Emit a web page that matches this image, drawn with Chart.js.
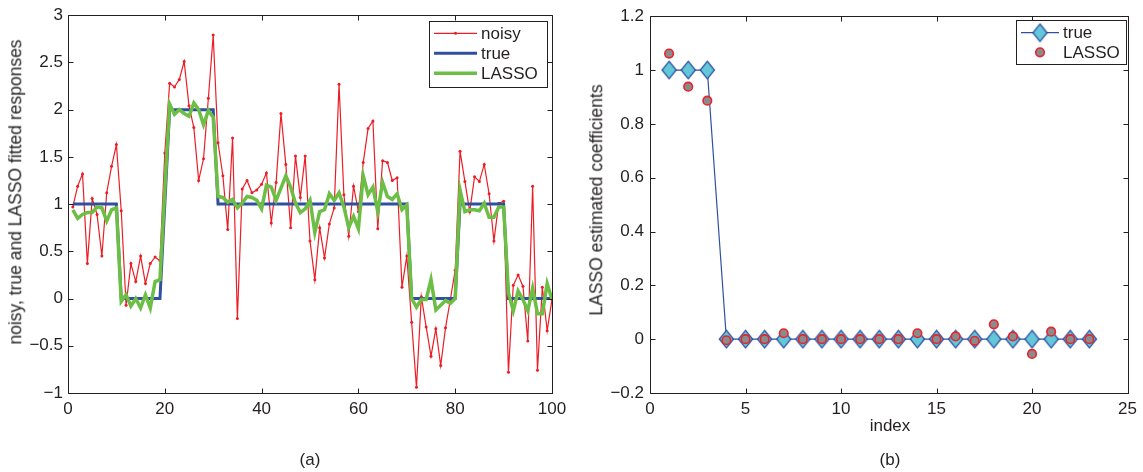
<!DOCTYPE html>
<html><head><meta charset="utf-8">
<script src="https://cdn.jsdelivr.net/npm/chart.js@4/dist/chart.umd.min.js"></script>
<style>
html,body{margin:0;padding:0;background:#fff;}
body{width:1143px;height:472px;position:relative;overflow:hidden;font-family:"Liberation Sans",Arial,sans-serif;color:#231f20;}
canvas{position:absolute;top:0;}
#c1{left:0;}
#c2{left:590px;}
.t{position:absolute;font-size:17px;white-space:nowrap;line-height:1;}
.big{font-size:17.5px;}
.rot{transform:translate(-50%,-50%) rotate(-90deg);}
.ctr{transform:translate(-50%,-50%);}
</style></head><body>
<canvas id="c1" width="590" height="472" style="width:590px;height:472px"></canvas>
<canvas id="c2" width="553" height="472" style="width:553px;height:472px"></canvas>
<div class="t big rot" style="left:16px;top:192px">noisy, true and LASSO fitted responses</div>
<div class="t big rot" style="left:597px;top:200px">LASSO estimated coefficients</div>
<div class="t ctr" style="left:890px;top:425px">index</div>
<div class="t ctr" style="left:310px;top:459px">(a)</div>
<div class="t ctr" style="left:890px;top:459px">(b)</div>
<script>
// ---------- data ----------
const sampleIndex = Array.from({length: 100}, (_, i) => i + 1);
const noisyResp = [
  0.97, 1.19, 1.32, 0.37, 1.06, 0.89, 0.45, 1.12, 1.40, 1.63,
  0.93, -0.07, 0.37, 0.18, 0.45, 0.16, 0.37, 0.44, 0.40, 1.54,
  2.28, 2.24, 2.32, 2.51, 2.04, 1.81, 1.25, 1.48, 2.12, 2.79,
  1.65, 1.30, 0.73, 1.70, -0.21, 1.16, 1.25, 1.12, 1.15, 1.21,
  1.33, 0.80, 1.23, 1.96, 1.42, 0.75, 1.51, 1.07, 1.51, 0.61,
  0.20, 0.75, 0.43, 0.79, 0.96, 2.27, 1.10, 0.66, 1.19, 0.92,
  1.44, 1.80, 1.88, 0.74, 1.46, 1.44, 1.25, 1.28, 0.12, 0.45,
  -0.25, -0.94, 0.02, -0.30, -0.61, -0.32, -0.71, -0.31, -0.01, 0.30,
  1.56, 1.24, 0.92, 1.29, 1.24, 1.42, 1.11, 0.61, 1.01, 1.03,
  -0.78, 0.14, 0.25, 0.13, -0.45, 1.19, -0.76, 0.12, -0.34, -0.01
];
const trueResp = [
  1, 1, 1, 1, 1, 1, 1, 1, 1, 1,
  0, 0, 0, 0, 0, 0, 0, 0, 0, 1,
  2, 2, 2, 2, 2, 2, 2, 2, 2, 2,
  1, 1, 1, 1, 1, 1, 1, 1, 1, 1,
  1, 1, 1, 1, 1, 1, 1, 1, 1, 1,
  1, 1, 1, 1, 1, 1, 1, 1, 1, 1,
  1, 1, 1, 1, 1, 1, 1, 1, 1, 1,
  0, 0, 0, 0, 0, 0, 0, 0, 0, 0,
  1, 1, 1, 1, 1, 1, 1, 1, 1, 1,
  0, 0, 0, 0, 0, 0, 0, 0, 0, 0
];
const lassoResp = [
  0.94, 0.85, 0.89, 0.91, 0.91, 0.97, 0.96, 0.82, 0.94, 0.96,
  -0.03, 0.04, -0.08, 0.00, -0.10, 0.04, -0.10, 0.18, 0.20, 1.15,
  2.06, 1.95, 2.00, 1.96, 1.93, 2.07, 2.00, 1.84, 1.99, 1.92,
  1.08, 1.07, 1.02, 1.05, 0.96, 1.01, 1.08, 1.07, 1.04, 0.95,
  1.20, 1.18, 1.04, 1.17, 1.30, 1.18, 1.01, 0.91, 0.95, 1.04,
  0.70, 0.92, 0.94, 1.11, 1.04, 1.12, 0.97, 0.75, 0.87, 0.74,
  1.30, 1.10, 1.18, 0.92, 1.23, 1.08, 1.05, 1.11, 0.94, 0.99,
  0.00, -0.09, -0.01, -0.01, 0.20, -0.12, -0.07, -0.02, -0.05, 0.00,
  1.15, 0.92, 0.94, 0.94, 0.93, 1.01, 0.86, 0.86, 0.97, 0.97,
  0.06, -0.13, 0.08, -0.01, -0.13, 0.11, -0.16, -0.16, 0.16, -0.01
];
const coefIndex = Array.from({length: 23}, (_, i) => i + 1);
const trueCoef = [1, 1, 1, 0, 0, 0, 0, 0, 0, 0, 0, 0, 0, 0, 0, 0, 0, 0, 0, 0, 0, 0, 0];
const lassoCoef = [1.061, 0.938, 0.886, -0.004, 0, 0, 0.022, 0, 0, 0, 0, 0, 0, 0.022, 0, 0.010, -0.006, 0.055, 0.010, -0.055, 0.028, 0, 0];
const leftXTicks = [0, 20, 40, 60, 80, 100];
const leftYTicks = [-1, -0.5, 0, 0.5, 1, 1.5, 2, 2.5, 3];
const rightXTicks = [0, 5, 10, 15, 20, 25];
const rightYTicks = [-0.2, 0, 0.2, 0.4, 0.6, 0.8, 1, 1.2];

// ---------- styling ----------
const ink = '#231f20';
const FAMILY = '"Liberation Sans", Arial, sans-serif';
const tickFont = {family: FAMILY, size: 17};
const RED = '#ec1d25', BLUE = '#2f4fa0', GREEN = '#6cbe45';

const fmt = v => String(Math.round(v * 100) / 100).replace('-', '\u2212');
const pts = (xs, ys) => xs.map((x, i) => ({x, y: ys[i]}));

function diamondImage() {
  const c = document.createElement('canvas');
  c.width = 17; c.height = 20;
  const g = c.getContext('2d');
  g.beginPath();
  g.moveTo(8.5, 1.2); g.lineTo(15.6, 10); g.lineTo(8.5, 18.8); g.lineTo(1.4, 10); g.closePath();
  g.fillStyle = '#62c7d8'; g.fill();
  g.lineWidth = 1.3; g.strokeStyle = '#2f4fa0'; g.stroke();
  return c;
}
const diamond = diamondImage();

const matlabAxes = {
  id: 'matlabAxes',
  afterDraw(chart) {
    const {ctx, chartArea: a} = chart;
    const xs = chart.scales.x, ys = chart.scales.y;
    const r = v => Math.round(v) + 0.5;
    const L = r(a.left), R = r(a.right), T = r(a.top), B = r(a.bottom);
    ctx.save();
    ctx.strokeStyle = ink; ctx.lineWidth = 1;
    ctx.beginPath();
    ctx.rect(L, T, R - L, B - T);
    const tl = 5;
    xs.ticks.forEach(t => {
      const p = r(xs.getPixelForValue(t.value));
      ctx.moveTo(p, B); ctx.lineTo(p, B - tl);
      ctx.moveTo(p, T); ctx.lineTo(p, T + tl);
    });
    ys.ticks.forEach(t => {
      const p = r(ys.getPixelForValue(t.value));
      ctx.moveTo(L, p); ctx.lineTo(L + tl, p);
      ctx.moveTo(R, p); ctx.lineTo(R - tl, p);
    });
    ctx.stroke();

    // legend
    const lg = chart.options.plugins.matLegend;
    if (lg) {
      const [bx, by, bw, bh] = lg.box;
      ctx.fillStyle = '#fff';
      ctx.fillRect(r(bx), r(by), bw, bh);
      ctx.strokeStyle = ink; ctx.lineWidth = 1;
      ctx.strokeRect(r(bx), r(by), Math.round(bw), Math.round(bh));
      ctx.font = '17px ' + FAMILY;
      ctx.textBaseline = 'middle';
      ctx.textAlign = 'left';
      lg.rows.forEach(row => {
        const ds = chart.data.datasets[row.ds];
        const [x0, x1] = lg.lineX;
        const xm = (x0 + x1) / 2;
        if (row.line) {
          ctx.beginPath();
          ctx.strokeStyle = ds.borderColor; ctx.lineWidth = ds.borderWidth;
          ctx.moveTo(x0, row.y); ctx.lineTo(x1, row.y); ctx.stroke();
        }
        if (row.marker) {
          if (ds.pointStyle instanceof HTMLCanvasElement) {
            ctx.drawImage(ds.pointStyle, xm - ds.pointStyle.width / 2, row.y - ds.pointStyle.height / 2);
          } else {
            ctx.fillStyle = ds.pointBackgroundColor;
            ctx.strokeStyle = ds.pointBorderColor || ds.pointBackgroundColor;
            ctx.lineWidth = ds.pointBorderWidth || 0;
            ctx.beginPath();
            ctx.arc(xm, row.y, ds.pointRadius, 0, Math.PI * 2);
            ctx.fill();
            if (ds.pointBorderWidth) ctx.stroke();
          }
        }
        ctx.fillStyle = ink;
        ctx.fillText(ds.label, lg.textX, row.y + 1);
      });
    }
    ctx.restore();
  }
};

function scaleOpts(min, max, tickList, fixedSize, horizontal, pad) {
  return {
    type: 'linear', min, max,
    afterBuildTicks: s => { s.ticks = tickList.map(v => ({value: v})); },
    afterFit: s => { if (horizontal) s.height = fixedSize; else s.width = fixedSize; },
    grid: {display: false, drawTicks: false},
    border: {display: false},
    ticks: {font: tickFont, color: ink, padding: pad, maxRotation: 0, autoSkip: false, callback: fmt}
  };
}

// ---------- left panel ----------
new Chart(document.getElementById('c1'), {
  type: 'line',
  data: {
    datasets: [
      {label: 'noisy', data: pts(sampleIndex, noisyResp), borderColor: RED, borderWidth: 1.2,
       pointRadius: 1.5, pointBackgroundColor: RED, pointBorderWidth: 0, order: 3},
      {label: 'true', data: pts(sampleIndex, trueResp), borderColor: BLUE, borderWidth: 3,
       pointRadius: 0, order: 2},
      {label: 'LASSO', data: pts(sampleIndex, lassoResp), borderColor: GREEN, borderWidth: 3.5,
       pointRadius: 0, order: 1}
    ]
  },
  options: {
    responsive: false, animation: false, events: [],
    layout: {padding: {left: 0, right: 590 - 552, top: 15, bottom: 0}},
    scales: {
      x: scaleOpts(0, 100, leftXTicks, 472 - 393, true, 6),
      y: scaleOpts(-1, 3, leftYTicks, 68, false, 5)
    },
    plugins: {
      legend: {display: false}, tooltip: {enabled: false},
      matLegend: {box: [429, 20.5, 118, 65.5], lineX: [434, 477], textX: 481,
        rows: [{ds: 0, y: 33.3, line: true, marker: true}, {ds: 1, y: 53.3, line: true}, {ds: 2, y: 73.3, line: true}]}
    }
  },
  plugins: [matlabAxes]
});

// ---------- right panel ----------
new Chart(document.getElementById('c2'), {
  type: 'line',
  data: {
    datasets: [
      {label: 'true', data: pts(coefIndex, trueCoef), borderColor: BLUE, borderWidth: 1.2,
       pointStyle: diamond, pointRadius: 8, order: 2},
      {label: 'LASSO', data: pts(coefIndex, lassoCoef), showLine: false, borderColor: RED, borderWidth: 0,
       pointStyle: 'circle', pointRadius: 4.3, pointBackgroundColor: '#8b8b8b', pointBorderColor: '#e8232b',
       pointBorderWidth: 1.6, order: 1}
    ]
  },
  options: {
    responsive: false, animation: false, events: [],
    layout: {padding: {left: 0, right: 553 - 540, top: 13, bottom: 0}},
    scales: {
      x: scaleOpts(0, 25, rightXTicks, 472 - 393, true, 6),
      y: scaleOpts(-0.2, 1.2, rightYTicks, 60, false, 6)
    },
    plugins: {
      legend: {display: false}, tooltip: {enabled: false},
      matLegend: {box: [426, 19.5, 110, 44], lineX: [431, 469], textX: 473,
        rows: [{ds: 0, y: 32.7, line: true, marker: true}, {ds: 1, y: 52.3, line: false, marker: true}]}
    }
  },
  plugins: [matlabAxes]
});
</script>
</body></html>
